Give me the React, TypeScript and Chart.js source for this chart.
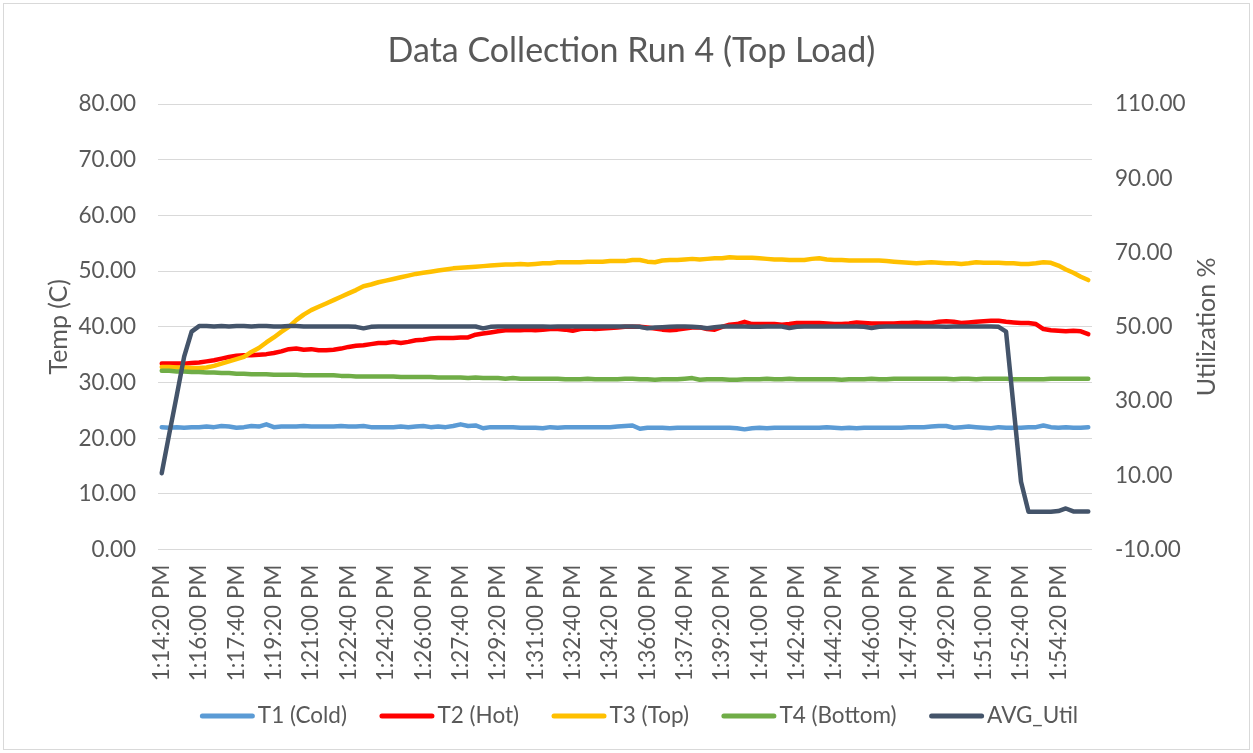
import React, { useEffect, useRef } from 'react';
import { Chart, registerables } from 'chart.js';

Chart.register(...registerables);

// ---- Data -------------------------------------------------------------
const START_SECONDS = 13 * 3600 + 14 * 60 + 20; // 1:14:20 PM
const STEP_SECONDS = 20;
const POINT_COUNT = 125;
const LABEL_EVERY = 5;

function formatTime(sec: number): string {
  const h24 = Math.floor(sec / 3600);
  const m = Math.floor((sec % 3600) / 60);
  const s = sec % 60;
  const h = h24 % 12 === 0 ? 12 : h24 % 12;
  const ampm = h24 >= 12 ? 'PM' : 'AM';
  return `${h}:${String(m).padStart(2, '0')}:${String(s).padStart(2, '0')} ${ampm}`;
}

const CATEGORIES: string[] = Array.from({ length: POINT_COUNT }, (_, i) =>
  formatTime(START_SECONDS + i * STEP_SECONDS)
);

const T1_COLD = [
  22.0, 21.9, 22.0, 21.9, 22.0, 22.0, 22.1, 22.0, 22.2, 22.1,
  21.9, 22.0, 22.2, 22.1, 22.5, 22.0, 22.1, 22.1, 22.1, 22.2,
  22.1, 22.1, 22.1, 22.1, 22.2, 22.1, 22.1, 22.2, 22.0, 22.0,
  22.0, 22.0, 22.1, 22.0, 22.1, 22.2, 22.0, 22.1, 22.0, 22.2,
  22.5, 22.2, 22.3, 21.8, 22.0, 22.0, 22.0, 22.0, 21.9, 21.9,
  21.9, 21.8, 22.0, 21.9, 22.0, 22.0, 22.0, 22.0, 22.0, 22.0,
  22.0, 22.1, 22.2, 22.3, 21.7, 21.9, 21.9, 21.9, 21.8, 21.9,
  21.9, 21.9, 21.9, 21.9, 21.9, 21.9, 21.9, 21.8, 21.6, 21.8,
  21.9, 21.8, 21.9, 21.9, 21.9, 21.9, 21.9, 21.9, 21.9, 22.0,
  21.9, 21.8, 21.9, 21.8, 21.9, 21.9, 21.9, 21.9, 21.9, 21.9,
  22.0, 22.0, 22.0, 22.1, 22.2, 22.2, 21.9, 22.0, 22.1, 22.0,
  21.9, 21.8, 22.0, 21.9, 21.9, 21.9, 22.0, 22.0, 22.3, 22.0,
  21.9, 22.0, 21.9, 21.9, 22.0,
];

const T2_HOT = [
  33.4, 33.4, 33.4, 33.4, 33.5, 33.6, 33.8, 34.0, 34.3, 34.6,
  34.8, 34.9, 34.9, 35.0, 35.1, 35.3, 35.6, 36.0, 36.1, 35.9,
  36.0, 35.8, 35.8, 35.9, 36.1, 36.4, 36.6, 36.7, 36.9, 37.1,
  37.1, 37.3, 37.1, 37.3, 37.6, 37.7, 37.9, 38.0, 38.0, 38.0,
  38.1, 38.1, 38.6, 38.8, 39.0, 39.2, 39.4, 39.4, 39.4, 39.5,
  39.4, 39.5, 39.6, 39.6, 39.5, 39.3, 39.6, 39.7, 39.6, 39.7,
  39.8, 39.9, 40.0, 40.0, 40.0, 39.9, 39.7, 39.5, 39.4, 39.5,
  39.7, 39.9, 39.9, 39.6, 39.5, 40.0, 40.4, 40.5, 40.9, 40.5,
  40.5, 40.5, 40.5, 40.4, 40.5, 40.7, 40.7, 40.7, 40.7, 40.6,
  40.5, 40.5, 40.6, 40.8, 40.7, 40.6, 40.6, 40.6, 40.6, 40.7,
  40.7, 40.8, 40.7, 40.7, 40.9, 41.0, 40.9, 40.7, 40.8, 40.9,
  41.0, 41.1, 41.1, 40.9, 40.8, 40.7, 40.7, 40.5, 39.6, 39.4,
  39.3, 39.2, 39.3, 39.2, 38.7,
];

const T3_TOP = [
  32.8, 32.8, 32.7, 32.7, 32.6, 32.6, 32.7, 33.0, 33.4, 33.8,
  34.2, 34.6, 35.5, 36.2, 37.2, 38.1, 39.1, 40.0, 41.2, 42.2,
  43.0, 43.6, 44.2, 44.8, 45.4, 46.0, 46.6, 47.3, 47.6, 48.0,
  48.3, 48.6, 48.9, 49.2, 49.5, 49.7, 49.9, 50.1, 50.3, 50.5,
  50.6, 50.7, 50.8, 50.9, 51.0, 51.1, 51.2, 51.2, 51.3, 51.2,
  51.3, 51.4, 51.4, 51.6, 51.6, 51.6, 51.6, 51.7, 51.7, 51.7,
  51.8, 51.8, 51.8, 52.0, 52.0, 51.7, 51.6, 51.9, 52.0, 52.0,
  52.1, 52.2, 52.1, 52.2, 52.3, 52.3, 52.5, 52.4, 52.4, 52.4,
  52.3, 52.2, 52.1, 52.1, 52.0, 52.0, 52.0, 52.2, 52.3, 52.1,
  52.0, 52.0, 51.9, 51.9, 51.9, 51.9, 51.9, 51.8, 51.7, 51.6,
  51.5, 51.4, 51.5, 51.6, 51.5, 51.4, 51.4, 51.3, 51.4, 51.6,
  51.5, 51.5, 51.5, 51.4, 51.4, 51.3, 51.3, 51.4, 51.6, 51.5,
  51.0, 50.3, 49.7, 49.0, 48.4,
];

const T4_BOTTOM = [
  32.1, 32.1, 32.0, 32.0, 31.9, 31.9, 31.8, 31.8, 31.7, 31.7,
  31.6, 31.6, 31.5, 31.5, 31.5, 31.4, 31.4, 31.4, 31.4, 31.3,
  31.3, 31.3, 31.3, 31.3, 31.2, 31.2, 31.1, 31.1, 31.1, 31.1,
  31.1, 31.1, 31.0, 31.0, 31.0, 31.0, 31.0, 30.9, 30.9, 30.9,
  30.9, 30.8, 30.9, 30.8, 30.8, 30.8, 30.7, 30.8, 30.7, 30.7,
  30.7, 30.7, 30.7, 30.7, 30.6, 30.6, 30.6, 30.7, 30.6, 30.6,
  30.6, 30.6, 30.7, 30.7, 30.6, 30.6, 30.5, 30.6, 30.6, 30.6,
  30.7, 30.8, 30.5, 30.6, 30.6, 30.6, 30.5, 30.5, 30.6, 30.6,
  30.6, 30.7, 30.6, 30.6, 30.7, 30.6, 30.6, 30.6, 30.6, 30.6,
  30.6, 30.5, 30.6, 30.6, 30.6, 30.7, 30.6, 30.6, 30.7, 30.7,
  30.7, 30.7, 30.7, 30.7, 30.7, 30.7, 30.6, 30.7, 30.7, 30.6,
  30.7, 30.7, 30.7, 30.7, 30.6, 30.6, 30.6, 30.6, 30.6, 30.7,
  30.7, 30.7, 30.7, 30.7, 30.7,
];

const AVG_UTIL = [
  10.6, 21.1, 31.4, 42.0, 48.7, 50.2, 50.2, 50.1, 50.2, 50.1,
  50.2, 50.2, 50.1, 50.2, 50.2, 50.1, 50.1, 50.2, 50.2, 50.1,
  50.1, 50.1, 50.1, 50.1, 50.1, 50.1, 50.0, 49.6, 50.0, 50.1,
  50.1, 50.1, 50.1, 50.1, 50.1, 50.1, 50.1, 50.1, 50.1, 50.1,
  50.1, 50.1, 50.1, 49.6, 50.0, 50.1, 50.1, 50.1, 50.1, 50.1,
  50.1, 50.1, 50.0, 50.1, 50.1, 50.1, 50.1, 50.1, 50.1, 50.1,
  50.1, 50.1, 50.1, 50.1, 50.0, 49.6, 49.8, 49.9, 50.0, 50.1,
  50.1, 50.0, 49.9, 49.6, 49.9, 50.1, 50.1, 50.1, 50.1, 50.0,
  50.0, 50.1, 50.1, 50.1, 49.7, 50.0, 50.1, 50.1, 50.1, 50.1,
  50.1, 50.1, 50.1, 50.1, 50.0, 49.7, 50.0, 50.1, 50.1, 50.1,
  50.1, 50.1, 50.1, 50.1, 50.1, 50.0, 50.1, 50.1, 50.1, 50.1,
  50.1, 50.1, 50.0, 48.7, 28.5, 8.3, 0.2, 0.2, 0.2, 0.2,
  0.4, 1.1, 0.3, 0.3, 0.3,
];

const TEMP_TICKS = { min: 0, max: 80, step: 10 };
const UTIL_TICKS = { min: -10, max: 110, step: 20 };

const SERIES_NAMES = ['T1 (Cold)', 'T2 (Hot)', 'T3 (Top)', 'T4 (Bottom)', 'AVG_Util'];
const SERIES_COLORS = ['#5B9BD5', '#FF0000', '#FFC000', '#70AD47', '#44546A'];

const TITLE = 'Data Collection Run 4 (Top Load)';
const LEFT_AXIS_TITLE = 'Temp (C)';
const RIGHT_AXIS_TITLE = 'Utilization %';

// ---- Style ------------------------------------------------------------
const W = 1253;
const H = 753;
const FONT = 'Lato, "Open Sans", sans-serif';
const TEXT = '#595959';
const GRID = '#D9D9D9';
const TICK_SIZE = 22.5;
const AXIS_TITLE_SIZE = 25;
const LEGEND_SIZE = 22.5;
const LEGEND_Y = 716;
const LEGEND_CENTER_X = 639;
const LEGEND_LINE = 55;
const LEGEND_TEXT_GAP = 3;
const LEGEND_ITEM_GAP = 32.5;

const framePlugin = {
  id: 'frame',
  beforeDraw(chart: any) {
    const { ctx } = chart;
    ctx.save();
    ctx.fillStyle = '#ffffff';
    ctx.fillRect(0, 0, chart.width, chart.height);
    ctx.strokeStyle = GRID;
    ctx.lineWidth = 1;
    ctx.strokeRect(3.5, 3.5, chart.width - 7, chart.height - 7);
    ctx.restore();
  },
};

const rightTitlePlugin = {
  id: 'rightTitle',
  afterDraw(chart: any) {
    const { ctx, chartArea } = chart;
    ctx.save();
    ctx.translate(1207, (chartArea.top + chartArea.bottom) / 2);
    ctx.rotate(-Math.PI / 2);
    ctx.fillStyle = TEXT;
    ctx.font = `${AXIS_TITLE_SIZE}px ${FONT}`;
    ctx.textAlign = 'center';
    ctx.textBaseline = 'middle';
    ctx.fillText(RIGHT_AXIS_TITLE, 0, 0);
    ctx.restore();
  },
};

const legendPlugin = {
  id: 'lineLegend',
  afterDraw(chart: any) {
    const { ctx } = chart;
    ctx.save();
    ctx.font = `${LEGEND_SIZE}px ${FONT}`;
    const items = chart.data.datasets.map((ds: any) => ({
      label: ds.label as string,
      color: ds.borderColor as string,
      tw: ctx.measureText(ds.label).width,
    }));
    const total =
      items.reduce((s: number, it: any) => s + LEGEND_LINE + LEGEND_TEXT_GAP + it.tw, 0) +
      LEGEND_ITEM_GAP * (items.length - 1);
    let x = LEGEND_CENTER_X - total / 2;
    items.forEach((it: any) => {
      ctx.strokeStyle = it.color;
      ctx.lineWidth = 5;
      ctx.lineCap = 'round';
      ctx.beginPath();
      ctx.moveTo(x + 2.5, LEGEND_Y);
      ctx.lineTo(x + LEGEND_LINE - 2.5, LEGEND_Y);
      ctx.stroke();
      ctx.fillStyle = TEXT;
      ctx.textAlign = 'left';
      ctx.textBaseline = 'middle';
      ctx.fillText(it.label, x + LEGEND_LINE + LEGEND_TEXT_GAP, LEGEND_Y);
      x += LEGEND_LINE + LEGEND_TEXT_GAP + it.tw + LEGEND_ITEM_GAP;
    });
    ctx.restore();
  },
};

export default function App() {
  const canvasRef = useRef<HTMLCanvasElement | null>(null);

  useEffect(() => {
    if (!canvasRef.current) return;
    Chart.defaults.font.family = FONT;
    Chart.defaults.color = TEXT;

    const seriesData = [T1_COLD, T2_HOT, T3_TOP, T4_BOTTOM, AVG_UTIL];
    const datasets = seriesData.map((d, i) => ({
      label: SERIES_NAMES[i],
      data: d,
      borderColor: SERIES_COLORS[i],
      backgroundColor: SERIES_COLORS[i],
      borderWidth: 4.5,
      pointRadius: 0,
      pointHoverRadius: 0,
      tension: 0,
      fill: false,
      borderJoinStyle: 'round' as const,
      borderCapStyle: 'round' as const,
      yAxisID: i === 4 ? 'y1' : 'y',
      order: 5 - i,
    }));

    const chart = new Chart(canvasRef.current, {
      type: 'line',
      data: { labels: CATEGORIES, datasets },
      plugins: [framePlugin, rightTitlePlugin, legendPlugin],
      options: {
        responsive: false,
        animation: false,
        devicePixelRatio: 1,
        layout: { padding: { top: 0, left: 10, right: 0, bottom: 68.5 } },
        plugins: {
          title: {
            display: true,
            text: TITLE,
            color: TEXT,
            font: { size: 34, weight: 'normal', family: FONT },
            padding: { top: 31, bottom: 32.2 },
          },
          legend: { display: false },
          tooltip: { enabled: false },
        },
        scales: {
          x: {
            type: 'category',
            offset: true,
            grid: { display: false, drawTicks: false },
            border: { display: false },
            ticks: {
              autoSkip: false,
              minRotation: 90,
              maxRotation: 90,
              padding: 15,
              color: TEXT,
              font: { size: TICK_SIZE, family: FONT },
              callback: (_v: any, idx: number) =>
                idx % LABEL_EVERY === 0 ? CATEGORIES[idx] : '',
            },
            afterFit: (s: any) => {
              s.height = 134.8;
            },
          },
          y: {
            position: 'left',
            min: TEMP_TICKS.min,
            max: TEMP_TICKS.max,
            grid: { color: GRID, lineWidth: 1, drawTicks: false },
            border: { display: false },
            ticks: {
              stepSize: TEMP_TICKS.step,
              padding: 22,
              color: TEXT,
              font: { size: TICK_SIZE, family: FONT },
              callback: (v: any) => Number(v).toFixed(2),
            },
            title: {
              display: true,
              text: LEFT_AXIS_TITLE,
              color: TEXT,
              font: { size: AXIS_TITLE_SIZE, family: FONT },
              padding: 34,
            },
            afterFit: (s: any) => {
              s.width = 148;
            },
          },
          y1: {
            position: 'right',
            min: UTIL_TICKS.min,
            max: UTIL_TICKS.max,
            grid: { drawOnChartArea: false, drawTicks: false },
            border: { display: false },
            ticks: {
              stepSize: UTIL_TICKS.step,
              padding: 23,
              color: TEXT,
              font: { size: TICK_SIZE, family: FONT },
              callback: (v: any) => Number(v).toFixed(2),
            },
            afterFit: (s: any) => {
              s.width = 161;
            },
          },
        },
      },
    } as any);

    return () => chart.destroy();
  }, []);

  return (
    <div style={{ position: 'absolute', left: 0, top: 0, width: W, height: H }}>
      <canvas ref={canvasRef} width={W} height={H} style={{ display: 'block' }} />
    </div>
  );
}
